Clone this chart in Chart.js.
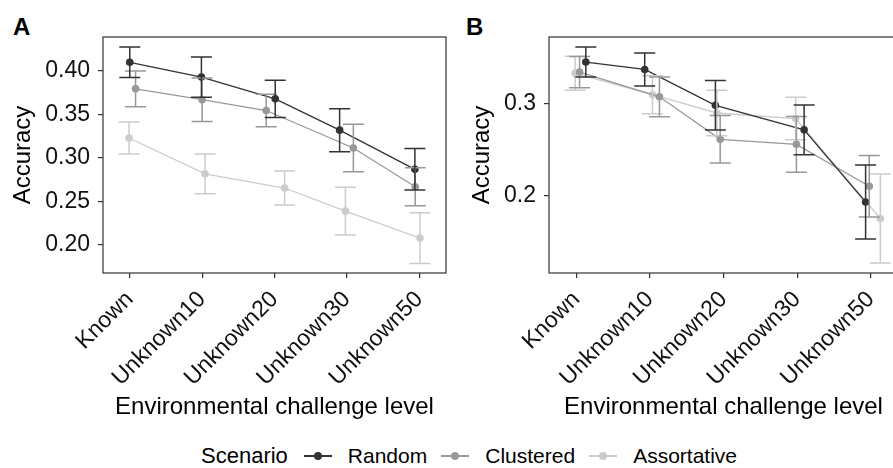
<!DOCTYPE html>
<html lang="en">
<head>
<meta charset="UTF-8">
<title>Accuracy by environmental challenge level</title>
<script src="https://cdn.jsdelivr.net/npm/chart.js@4.4.1/dist/chart.umd.min.js"></script>
<style>
  html, body { margin: 0; padding: 0; background: #fff; }
  body { width: 893px; height: 468px; overflow: hidden; position: relative;
         font-family: "Liberation Sans", Arial, sans-serif; color: #000; }
  .panel { position: absolute; top: 0; height: 430px; }
  #panelA { left: 0; width: 450px; }
  #panelB { left: 446px; width: 456px; }
  .tag { position: absolute; top: 15px; font-size: 24px; line-height: 24px; font-weight: bold; }
  #legend { position: absolute; left: 201px; top: 444px; height: 24px; display: flex; align-items: center; white-space: nowrap; }
  #legend .ltitle { font-size: 22px; margin-right: 16px; }
  #legend .key { display: inline-block; position: relative; width: 28px; height: 10px; margin-right: 16px; }
  #legend .key::before { content: ""; position: absolute; left: 0; right: 0; top: 4px; height: 2px; background: var(--c); }
  #legend .key::after { content: ""; position: absolute; left: 10px; top: 1px; width: 8px; height: 8px; border-radius: 50%; background: var(--c); }
  #legend .lab { font-size: 21px; margin-right: 14px; }
</style>
</head>
<body>
<div class="tag" style="left:13px">A</div>
<div class="tag" style="left:466px">B</div>
<div class="panel" id="panelA"><canvas id="chartA"></canvas></div>
<div class="panel" id="panelB"><canvas id="chartB"></canvas></div>
<div id="legend"></div>

<script>
var levels = ['Known', 'Unknown10', 'Unknown20', 'Unknown30', 'Unknown50'];
var scenarios = ['Random', 'Clustered', 'Assortative'];
var scenarioColors = ['#333333', '#989898', '#cccccc'];

// panel A: mean accuracy, error (+/-) and horizontal jitter (category units)
var meanA_random = [0.410, 0.393, 0.368, 0.332, 0.287];
var errA_random = [0.0176, 0.0232, 0.0215, 0.0247, 0.0238];
var jitA_random = [0.00, -0.01, 0.01, -0.10, -0.06];

var meanA_clustered = [0.3795, 0.367, 0.3546, 0.3115, 0.267];
var errA_clustered = [0.0205, 0.0250, 0.0186, 0.0272, 0.0219];
var jitA_clustered = [0.08, 0.00, -0.115, 0.09, -0.055];

var meanA_assort = [0.323, 0.2818, 0.2655, 0.2389, 0.208];
var errA_assort = [0.0184, 0.0228, 0.0195, 0.0274, 0.0292];
var jitA_assort = [-0.01, 0.04, 0.14, -0.02, 0.01];

// panel B
var meanB_random = [0.3453, 0.3372, 0.2982, 0.2716, 0.1931];
var errB_random = [0.0163, 0.0180, 0.0269, 0.0270, 0.0402];
var jitB_random = [0.13, -0.07, -0.11, 0.095, -0.07];

var meanB_clustered = [0.3344, 0.3075, 0.2613, 0.2558, 0.2103];
var errB_clustered = [0.0170, 0.0216, 0.0258, 0.0304, 0.0335];
var jitB_clustered = [0.045, 0.13, -0.045, -0.01, -0.02];

var meanB_assort = [0.333, 0.3098, 0.2899, 0.2839, 0.1752];
var errB_assort = [0.0185, 0.0207, 0.0247, 0.0230, 0.0484];
var jitB_assort = [-0.015, 0.035, -0.09, -0.02, 0.13];

var yTicksA = [0.20, 0.25, 0.30, 0.35, 0.40];
var yTicksB = [0.2, 0.3];

var fontFamily = '"Liberation Sans", Arial, sans-serif';
var axisColor = '#333333';
var capHalf = 10.5;

function buildDatasets(means, errs, jits) {
    return scenarios.map(function (name, k) {
        return {
            label: name,
            data: means[k].map(function (m, i) {
                return { x: i + jits[k][i], y: m, lo: m - errs[k][i], hi: m + errs[k][i] };
            }),
            borderColor: scenarioColors[k],
            backgroundColor: scenarioColors[k],
            pointBackgroundColor: scenarioColors[k],
            pointBorderWidth: 0,
            pointRadius: 3.8,
            borderWidth: 1.3,
            tension: 0,
            order: k
        };
    });
}

// draws error bars and the panel box
var errorBarPlugin = {
    id: 'errorBars',
    afterDatasetsDraw: function (chart) {
        var ctx = chart.ctx;
        var xs = chart.scales.x, ys = chart.scales.y;
        ctx.save();
        ctx.lineWidth = 1.5;
        for (var k = chart.data.datasets.length - 1; k >= 0; k--) {
            var ds = chart.data.datasets[k];
            ctx.strokeStyle = ds.borderColor;
            ds.data.forEach(function (p) {
                var px = xs.getPixelForValue(p.x);
                var top = ys.getPixelForValue(p.hi);
                var bot = ys.getPixelForValue(p.lo);
                ctx.beginPath();
                ctx.moveTo(px, top); ctx.lineTo(px, bot);
                ctx.moveTo(px - capHalf, top); ctx.lineTo(px + capHalf, top);
                ctx.moveTo(px - capHalf, bot); ctx.lineTo(px + capHalf, bot);
                ctx.stroke();
            });
        }
        var a = chart.chartArea;
        ctx.strokeStyle = axisColor;
        ctx.lineWidth = 1.2;
        ctx.strokeRect(a.left, a.top, a.right - a.left, a.bottom - a.top);
        ctx.restore();
    }
};

function makePanel(id, datasets, yMin, yMax, yTicks, decimals, yTitlePad) {
    var ctx = document.getElementById(id).getContext('2d');
    return new Chart(ctx, {
        type: 'line',
        data: { datasets: datasets },
        plugins: [errorBarPlugin],
        options: {
            responsive: true,
            maintainAspectRatio: false,
            animation: false,
            layout: { padding: { top: 37, right: 3, left: 0, bottom: 0 } },
            plugins: { legend: { display: false }, tooltip: { enabled: false } },
            scales: {
                x: {
                    type: 'linear',
                    min: -0.37,
                    max: 4.37,
                    afterBuildTicks: function (s) {
                        s.ticks = levels.map(function (_, i) { return { value: i }; });
                    },
                    ticks: {
                        autoSkip: false,
                        maxRotation: 45,
                        minRotation: 45,
                        padding: 8,
                        color: '#111',
                        font: { family: fontFamily, size: 23 },
                        callback: function (v) { return levels[v]; }
                    },
                    grid: { drawOnChartArea: false, drawTicks: true, tickLength: 5, color: axisColor, lineWidth: 1.2 },
                    border: { display: false },
                    title: {
                        display: true,
                        text: 'Environmental challenge level',
                        color: '#000',
                        font: { family: fontFamily, size: 24 },
                        padding: { top: 0, bottom: 8 }
                    },
                    afterFit: function (s) { s.height = 157; }
                },
                y: {
                    min: yMin,
                    max: yMax,
                    afterBuildTicks: function (s) {
                        s.ticks = yTicks.map(function (v) { return { value: v }; });
                    },
                    ticks: {
                        padding: 8,
                        color: '#111',
                        font: { family: fontFamily, size: 23 },
                        callback: function (v) { return v.toFixed(decimals); }
                    },
                    grid: { drawOnChartArea: false, drawTicks: true, tickLength: 5, color: axisColor, lineWidth: 1.2 },
                    border: { display: false },
                    title: {
                        display: true,
                        text: 'Accuracy',
                        color: '#000',
                        font: { family: fontFamily, size: 24 },
                        padding: { top: yTitlePad, bottom: 0 }
                    },
                    afterFit: function (s) { s.width = 103; }
                }
            }
        }
    });
}

makePanel('chartA',
    buildDatasets([meanA_random, meanA_clustered, meanA_assort],
                  [errA_random, errA_clustered, errA_assort],
                  [jitA_random, jitA_clustered, jitA_assort]),
    0.1678, 0.4391, yTicksA, 2, 8.6);

makePanel('chartB',
    buildDatasets([meanB_random, meanB_clustered, meanB_assort],
                  [errB_random, errB_clustered, errB_assort],
                  [jitB_random, jitB_clustered, jitB_assort]),
    0.116, 0.3725, yTicksB, 1, 21.6);

// shared legend
var legend = document.getElementById('legend');
var html = '<span class="ltitle">Scenario</span>';
scenarios.forEach(function (name, k) {
    html += '<span class="key" style="--c:' + scenarioColors[k] + '"></span><span class="lab">' + name + '</span>';
});
legend.innerHTML = html;
</script>
</body>
</html>
